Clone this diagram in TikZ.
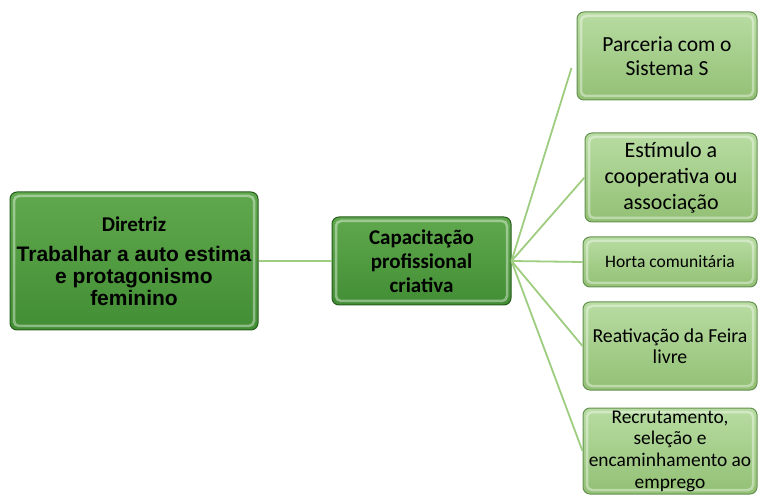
\documentclass[tikz,border=0pt]{standalone}
\usepackage{fontspec}
\setmainfont{Carlito}
\newfontfamily\arialfont{Liberation Sans}
\usepackage{tikz}
\usetikzlibrary{positioning,calc}

\definecolor{darkgr}{RGB}{66,142,52}
\definecolor{darkgrtop}{RGB}{96,168,78}
\definecolor{darkgredge}{RGB}{40,92,30}
\definecolor{lightgr}{RGB}{146,192,116}
\definecolor{lightgrtop}{RGB}{184,220,162}
\definecolor{lightgredge}{RGB}{100,145,80}
\definecolor{linkgr}{RGB}{158,205,128}

\begin{document}
\begin{tikzpicture}[x=1pt, y=1pt,
    bevel/.style={rounded corners=7pt, line width=1pt, align=center, inner sep=1pt,
      path picture={\draw[white, opacity=.4, line width=2.5pt, rounded corners=5pt]
        ([shift={(4pt,-4pt)}]path picture bounding box.north west) rectangle
        ([shift={(-4pt,4pt)}]path picture bounding box.south east);}},
    darkbox/.style={bevel, draw=darkgredge, top color=darkgrtop, bottom color=darkgr},
    lightbox/.style={bevel, draw=lightgredge, top color=lightgrtop, bottom color=lightgr},
    link/.style={draw=linkgr, line width=1.8pt},
]
\useasboundingbox (0,0) rectangle (761,496);

% guideline and main theme
\node[darkbox, minimum width=248, minimum height=138,
      font=\arialfont\bfseries\fontsize{21}{22}\selectfont] (dir) at (134,235)
  {{\rmfamily\bfseries\fontsize{21}{22}\selectfont Diretriz}\\[8pt]
   Trabalhar a auto estima\\ e protagonismo\\ feminino};
\node[darkbox, minimum width=179, minimum height=88,
      font=\bfseries\fontsize{21}{24}\selectfont] (cap) at (421.5,235)
  {Capacitação\\ profissional\\ criativa};

% actions
\node[lightbox, minimum width=180, minimum height=88,
      font=\fontsize{21.5}{24}\selectfont] (parc) at (667,440)
  {Parceria com o\\ Sistema S};
\node[lightbox, minimum width=172, minimum height=89,
      font=\fontsize{22}{26}\selectfont] (estim) at (671,318.5)
  {Estímulo a\\ cooperativa ou\\ associação};
\node[lightbox, minimum width=174, minimum height=50,
      font=\fontsize{17.5}{21}\selectfont] (horta) at (670,234)
  {Horta comunitária};
\node[lightbox, minimum width=174, minimum height=88,
      font=\fontsize{19.8}{21.5}\selectfont] (reat) at (670,150)
  {Reativação da Feira\\ livre};
\node[lightbox, minimum width=174, minimum height=86,
      font=\fontsize{19.4}{21.7}\selectfont] (recr) at (670,45)
  {Recrutamento,\\ seleção e\\ encaminhamento ao\\ emprego};

% connectors
\draw[link] (dir.east) -- (cap.west);
\draw[link] (cap.east) -- ([shift={(-5pt,-12pt)}]parc.west);
\foreach \n in {estim,horta,reat,recr}
  \draw[link] (cap.east) -- (\n.west);
\end{tikzpicture}
\end{document}
